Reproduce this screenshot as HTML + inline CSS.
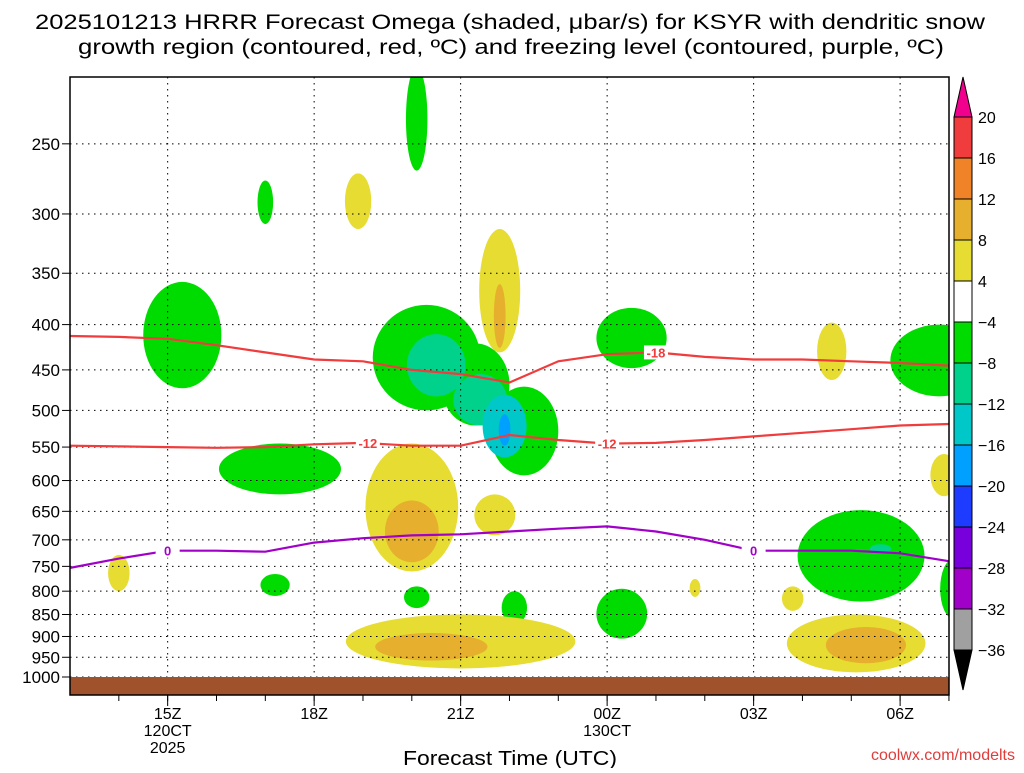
<!DOCTYPE html>
<html><head><meta charset="utf-8">
<style>
body{margin:0;background:#fff;width:1024px;height:768px;overflow:hidden;font-family:"Liberation Sans",sans-serif}
svg text{font-family:"Liberation Sans",sans-serif}
</style></head>
<body>
<svg id="chart" width="1024" height="768" xmlns="http://www.w3.org/2000/svg">
<text x="35" y="29" font-size="21" textLength="950" lengthAdjust="spacingAndGlyphs" fill="#000">2025101213 HRRR Forecast Omega (shaded, μbar/s) for KSYR with dendritic snow</text>
<text x="78" y="54" font-size="21" textLength="866" lengthAdjust="spacingAndGlyphs" fill="#000">growth region (contoured, red, ºC) and freezing level (contoured, purple, ºC)</text>
<defs><clipPath id="pc"><rect x="70" y="77" width="879" height="618"/></clipPath></defs>
<g id="shades" clip-path="url(#pc)"></g>
<g id="grid"></g>
<g id="lines" clip-path="url(#pc)"></g>
<rect x="70" y="677" width="879" height="18" fill="#a0522d"/>
<rect x="70" y="77" width="879" height="618" fill="none" stroke="#000" stroke-width="1.5"/>
<g id="axes"></g>
<g id="cbar"></g>
<text x="403" y="765" font-size="20" textLength="214" lengthAdjust="spacingAndGlyphs">Forecast Time (UTC)</text>
<text x="1015" y="760" font-size="16" text-anchor="end" fill="#e03c3c">coolwx.com/modelts</text>
</svg>
<script>
const pLevels=[250,300,350,400,450,500,550,600,650,700,750,800,850,900,950,1000];
const xHours=[15,18,21,24,27,30];
const xLabels=["15Z","18Z","21Z","00Z","03Z","06Z"];
const xSub=[["120CT","2025"],[],[],["130CT"],[],[]];
const cbLevels=[20,16,12,8,4,-4,-8,-12,-16,-20,-24,-28,-32,-36];
const cbColors=["#f03c3c","#f08228","#e6af2d","#e6dc32","#ffffff","#00dc00","#00d28c","#00c8c8","#00a0ff","#1e3cff","#7800dc","#a000c8","#a0a0a0"];
// blobs: center hour, half-width hours, top p, bottom p, level (omega)
const blobHour=[20.1,17.0,18.9,21.8,21.8,15.3,20.3,21.3,22.3,20.5,21.4,21.9,21.9,24.5,28.6,30.8,17.3,20.0,20.0,21.7,30.9,29.2,29.6,31.1,14.0,17.2,20.1,22.1,24.3,25.8,27.8,21.0,20.4,29.1,29.3];
const blobHW=[0.22,0.16,0.27,0.42,0.12,0.8,1.1,0.7,0.7,0.6,0.55,0.45,0.12,0.72,0.3,1.0,1.25,0.95,0.55,0.42,0.28,1.3,0.22,0.28,0.22,0.3,0.26,0.26,0.52,0.11,0.22,2.35,1.15,1.42,0.82];
const blobTop=[205,275,270,312,360,358,380,420,470,410,455,480,505,383,398,400,545,545,632,622,560,648,708,735,728,765,790,800,795,775,790,850,892,850,878];
const blobBot=[268,308,312,430,425,472,500,520,592,482,520,565,548,448,462,482,622,760,742,692,625,822,725,860,800,810,836,872,905,812,842,978,958,988,965];
const blobLvl=[-6,-6,6,6,10,-6,-6,-6,-6,-10,-10,-14,-18,-6,6,-6,-6,6,10,6,6,-6,-10,-6,6,-6,-6,-6,-6,6,6,6,10,6,10];
const ctHours=[13,14,15,16,17,18,19,20,21,22,23,24,25,26,27,28,29,30,31];
const red18=[412,413,415,422,430,438,440,450,455,465,440,432,430,435,438,438,440,442,445];
const red12=[548,549,550,551,550,546,544,548,548,533,540,545,544,540,535,530,525,520,518];
const purple0=[753,735,720,720,722,705,697,692,690,685,680,676,685,700,720,720,720,725,740];
const x=h=>70+(h-13)*48.83;
const y=p=>677-Math.log(1000/p)*384.6;
const NS="http://www.w3.org/2000/svg";
function mk(t,a,parent){const e=document.createElementNS(NS,t);for(const k in a)e.setAttribute(k,a[k]);parent.appendChild(e);return e;}
function colorFor(v){for(let i=0;i<cbColors.length;i++){if(v<=cbLevels[i]&&v>cbLevels[i+1])return cbColors[i];}return "#fff";}
const sh=document.getElementById('shades');
blobHour.forEach((h,i)=>{const cx=x(h),t=y(blobTop[i]),b=y(blobBot[i]);
 const e=mk('ellipse',{cx:cx,cy:(t+b)/2,rx:blobHW[i]*48.83,ry:(b-t)/2,fill:colorFor(blobLvl[i])},sh);
 
 });
const g=document.getElementById('grid'),ax=document.getElementById('axes');
pLevels.forEach(p=>{const yy=y(p);
 mk('line',{x1:70,x2:949,y1:yy,y2:yy,stroke:'#000','stroke-dasharray':'1.5 4.5','stroke-width':1},g);
 mk('line',{x1:62,x2:70,y1:yy,y2:yy,stroke:'#000'},ax);
 const t=mk('text',{x:60,y:yy+6,'font-size':17,'text-anchor':'end'},ax);t.textContent=p;
 
 });
for(let h=14;h<=31;h++){mk('line',{x1:x(h),x2:x(h),y1:695,y2:701,stroke:'#000'},ax);}
xHours.forEach((h,i)=>{const xx=x(h);
 mk('line',{x1:xx,x2:xx,y1:77,y2:677,stroke:'#000','stroke-dasharray':'1.5 4.5'},g);
 mk('line',{x1:xx,x2:xx,y1:695,y2:706,stroke:'#000'},ax);
 const t=mk('text',{x:xx,y:719,'font-size':16,'text-anchor':'middle'},ax);t.textContent=xLabels[i];
 
 
 xSub[i].forEach((s,j)=>{const u=mk('text',{x:xx,y:736+j*17,'font-size':16,'text-anchor':'middle'},ax);u.textContent=s;});});
const ln=document.getElementById('lines');
function line(arr,col,name,labels){const d=arr.map((p,i)=>(i?'L':'M')+x(ctHours[i]).toFixed(1)+','+y(p).toFixed(1)).join(' ');
 const pth=mk('path',{d:d,fill:'none',stroke:col,'stroke-width':2.2},ln);
 
 
 labels.forEach(L=>{const hh=L[0];const i=Math.floor(hh-13);const f=hh-13-i;const p=arr[i]+(arr[Math.min(i+1,arr.length-1)]-arr[i])*f;
  const xx=x(hh),yy=y(p);mk('rect',{x:xx-12,y:yy-7,width:24,height:14,fill:'#fff'},ln);
  const t=mk('text',{x:xx,y:yy+5,'font-size':13,'font-weight':'bold','text-anchor':'middle',fill:col},ln);t.textContent=L[1];});}
line(red18,'#f03c3c','contour-minus18',[[25,'-18']]);
line(red12,'#f03c3c','contour-minus12',[[19.1,'-12'],[24,'-12']]);
line(purple0,'#a000c8','freezing-level',[[15,'0'],[27,'0']]);
const cb=document.getElementById('cbar');const cx0=954,cw=18;
mk('polygon',{points:`${cx0},117 ${cx0+cw},117 ${cx0+cw/2},77`,fill:'#f0008c',stroke:'#000'},cb);
mk('polygon',{points:`${cx0},650 ${cx0+cw},650 ${cx0+cw/2},690`,fill:'#000',stroke:'#000'},cb);
cbColors.forEach((c,i)=>{const r=mk('rect',{x:cx0,y:117+i*41,width:cw,height:41,fill:c,stroke:'#000','stroke-width':1},cb);
 
 });
cbLevels.forEach((v,i)=>{const t=mk('text',{x:978,y:117+i*41+6,'font-size':16},cb);t.textContent=v<0?'\u2212'+(-v):v;});
</script>
</body></html>
